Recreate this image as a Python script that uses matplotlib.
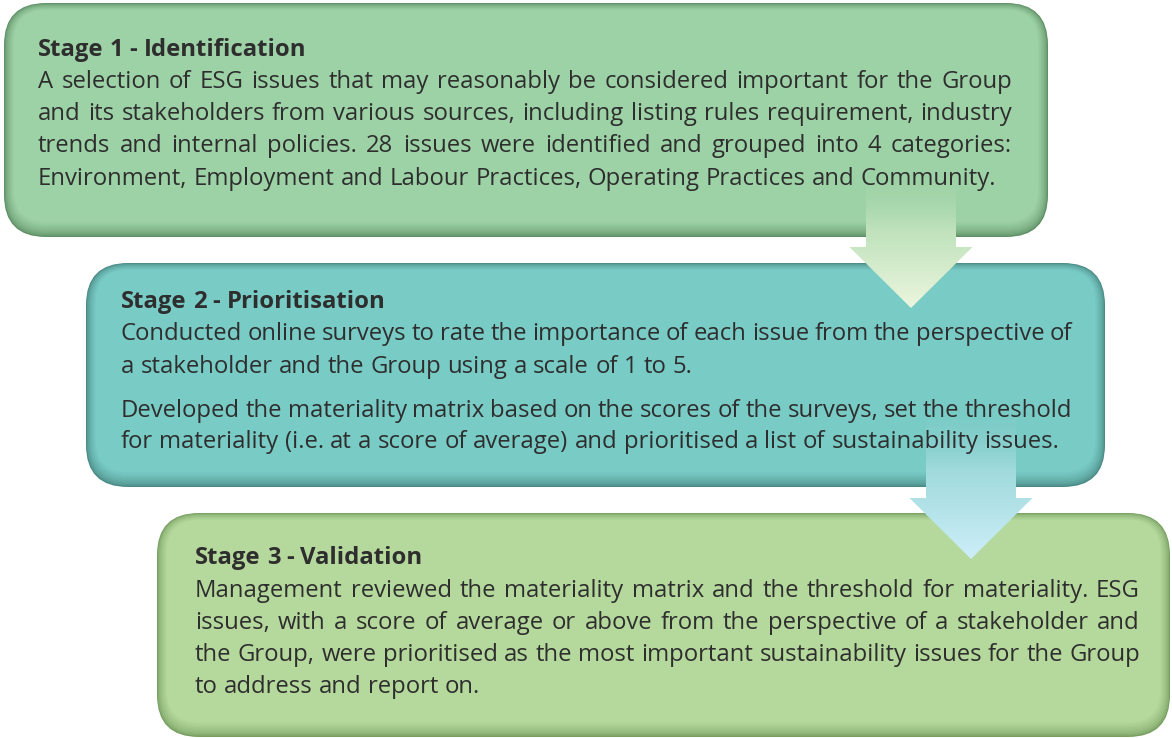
import matplotlib
matplotlib.use('Agg')
import matplotlib.pyplot as plt
import numpy as np
from matplotlib.patches import FancyBboxPatch, Polygon
from matplotlib.colors import to_rgb

# text content of the three stages
stage_titles = ['Stage 1 - Identification',
                'Stage 2 - Prioritisation',
                'Stage 3 - Validation']
# (line, justified?)
stage1_lines = [
    ('A selection of ESG issues that may reasonably be considered important for the Group', True),
    ('and its stakeholders from various sources, including listing rules requirement, industry', True),
    ('trends and internal policies. 28 issues were identified and grouped into 4 categories:', True),
    ('Environment, Employment and Labour Practices, Operating Practices and Community.', False),
]
stage2_lines = [
    ('Conducted online surveys to rate the importance of each issue from the perspective of', True),
    ('a stakeholder and the Group using a scale of 1 to 5.', False),
    ('Developed the materiality matrix based on the scores of the surveys, set the threshold', True),
    ('for materiality (i.e. at a score of average) and prioritised a list of sustainability issues.', False),
]
stage3_lines = [
    ('Management reviewed the materiality matrix and the threshold for materiality. ESG', True),
    ('issues, with a score of average or above from the perspective of a stakeholder and', True),
    ('the Group, were prioritised as the most important sustainability issues for the Group', True),
    ('to address and report on.', False),
]

W, H = 1172, 738
fig = plt.figure(figsize=(W / 100, H / 100), dpi=100)
ax = fig.add_axes([0, 0, 1, 1])
ax.set_xlim(0, W)
ax.set_ylim(H, 0)
ax.axis('off')

FONT = 'Open Sans'
SIZE = 17.2
TXT = '#2e2e2e'


def mix(c1, c2, t):
    a, b = np.array(to_rgb(c1)), np.array(to_rgb(c2))
    return tuple(a + (b - a) * t)


def draw_box(x0, y0, x1, y1, fill, edge, r=42, z=1):
    """rounded box with a soft bevelled edge"""
    n = 12
    for k in range(n):
        t = (k / (n - 1)) ** 0.6
        ins = k * 0.9
        ax.add_patch(FancyBboxPatch(
            (x0 + ins, y0 + ins * 0.7), (x1 - x0) - ins * 2, (y1 - y0) - ins * 2.2,
            boxstyle='round,pad=0,rounding_size=%g' % max(r - ins, 5),
            fc=mix(edge, fill, t), ec='none', zorder=z + k * 0.01))


def draw_arrow(cx, top, base, tip, shaft_w, head_w, c_top, c_bot, z=3):
    pts = [(cx - shaft_w / 2, top), (cx + shaft_w / 2, top), (cx + shaft_w / 2, base),
           (cx + head_w / 2, base), (cx, tip), (cx - head_w / 2, base),
           (cx - shaft_w / 2, base)]
    poly = Polygon(pts, closed=True, fc='none', ec='none')
    ax.add_patch(poly)
    n = 200
    grad = np.zeros((n, 1, 4))
    for i in range(n):
        t = i / (n - 1)
        grad[i, 0, :3] = mix(c_top, c_bot, t)
        grad[i, 0, 3] = min(1.0, 0.3 + t * 2.0)
    im = ax.imshow(grad, extent=(cx - head_w / 2, cx + head_w / 2, tip, top),
                   origin='upper', aspect='auto', zorder=z, interpolation='bilinear')
    im.set_clip_path(poly)


renderer = fig.canvas.get_renderer()


def text_line(line, x_left, x_right, y, justify, weight='normal'):
    words = line.split(' ')
    # baseline sits ~7px below the visual centre of the line
    objs = [ax.text(x_left, y + 7, w, fontsize=SIZE, family=FONT, color=TXT,
                    weight=weight, va='baseline', ha='left', zorder=5) for w in words]
    widths = [o.get_window_extent(renderer).width for o in objs]
    if justify and len(words) > 1:
        gap = (x_right - x_left - sum(widths)) / (len(words) - 1)
    else:
        sp = ax.text(0, 0, 'a a', fontsize=SIZE, family=FONT, weight=weight)
        sp2 = ax.text(0, 0, 'aa', fontsize=SIZE, family=FONT, weight=weight)
        gap = sp.get_window_extent(renderer).width - sp2.get_window_extent(renderer).width
        sp.remove()
        sp2.remove()
    x = x_left
    for o, w in zip(objs, widths):
        o.set_x(x)
        x += w + gap


# boxes
draw_box(4, 3, 1048, 237, '#9dd2a6', '#5f8f66')
draw_box(86, 263, 1105, 487, '#79cbc6', '#4a8a85')
draw_box(157, 513, 1170, 737, '#b5d99c', '#789f62')

# arrows
draw_arrow(911, 183, 247, 308, 90, 123, '#a4d6a8', '#ecf6de')
draw_arrow(971, 420, 498, 559, 90, 123, '#86cfcc', '#cdeefa')

# texts
stages = [
    (stage_titles[0], stage1_lines, 38, 1012, 49, [81, 113, 145, 178]),
    (stage_titles[1], stage2_lines, 121, 1072, 301, [333, 366, 410, 441]),
    (stage_titles[2], stage3_lines, 195, 1140, 557, [590, 622, 654, 686]),
]
for title, lines, xl, xr, ty, ys in stages:
    text_line(title, xl, xr, ty, False, weight='bold')
    for (ln, just), y in zip(lines, ys):
        text_line(ln, xl, xr, y, just)

fig.savefig('out.png', dpi=100)
